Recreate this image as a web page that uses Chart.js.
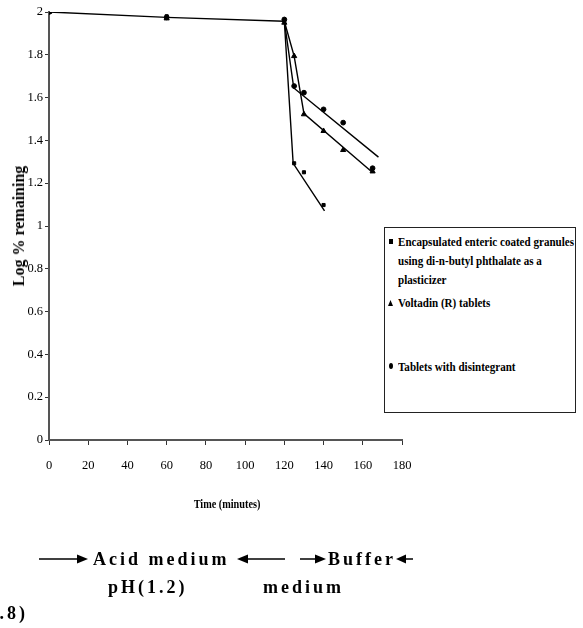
<!DOCTYPE html>
<html>
<head>
<meta charset="utf-8">
<script src="https://cdn.jsdelivr.net/npm/chart.js@4.4.1/dist/chart.umd.min.js"></script>
<style>
  html, body { margin:0; padding:0; background:#fff; }
  #wrap { position:relative; width:583px; height:628px; overflow:hidden; font-family:"Liberation Serif", serif; color:#000; }
  #c { position:absolute; left:0; top:0; }
  .abs { position:absolute; white-space:nowrap; }
  .ytitle { left:19px; top:226px; font-weight:bold; font-size:16px; transform:translate(-50%,-50%) rotate(-90deg); }
  .xtitle { left:227px; top:504px; font-weight:bold; font-size:12.5px; transform:translate(-50%,-50%) scaleX(0.82); }
  #legend { position:absolute; left:384px; top:227px; width:190px; height:184px; border:1px solid #222; background:#fff; }
  .lt { position:absolute; left:13px; font-weight:bold; font-size:13.5px; line-height:19px; transform-origin:0 50%; white-space:nowrap; }
  .mk { position:absolute; background:#000; }
  .big { font-weight:bold; font-size:18px; line-height:18px; letter-spacing:3px; }
</style>
</head>
<body>
<div id="wrap">
  <canvas id="c" width="583" height="628" style="width:583px;height:628px"></canvas>
  <div class="abs ytitle">Log % remaining</div>
  <div class="abs xtitle">Time (minutes)</div>
  <div id="legend"></div>
  <svg class="abs" style="left:0;top:0" width="583" height="628">
    <g stroke="#000" stroke-width="1.5" fill="#000">
      <line x1="39" y1="559" x2="78" y2="559"/><polygon points="77,554.5 88,559 77,563.5" stroke="none"/>
      <line x1="247" y1="559" x2="285" y2="559"/><polygon points="248,554.5 237,559 248,563.5" stroke="none"/>
      <line x1="300" y1="559" x2="316" y2="559"/><polygon points="315,554.5 326,559 315,563.5" stroke="none"/>
      <line x1="405" y1="559" x2="413" y2="559"/><polygon points="406,554.5 396,559 406,563.5" stroke="none"/>
    </g>
  </svg>
  <div class="abs big" style="left:93px;top:550px">Acid medium</div>
  <div class="abs big" style="left:328px;top:550px">Buffer</div>
  <div class="abs big" style="left:108px;top:578px">pH(1.2)</div>
  <div class="abs big" style="left:263px;top:578px">medium</div>
  <div class="abs big" style="right:555px;top:604px">pH(6.8)</div>
</div>
<script>
// ---- data ----
const xTicks = [0, 20, 40, 60, 80, 100, 120, 140, 160, 180];
const yTicks = [0, 0.2, 0.4, 0.6, 0.8, 1, 1.2, 1.4, 1.6, 1.8, 2];

const seriesNames = [
  "Encapsulated enteric coated granules using di-n-butyl phthalate as a plasticizer",
  "Voltadin (R) tablets",
  "Tablets with disintegrant"
];

// measured points
const granulesTime = [0, 60, 120, 125, 130, 140];
const granulesLog  = [2.0, 1.98, 1.96, 1.293, 1.251, 1.098];

const voltadinTime = [0, 60, 120, 125, 130, 140, 150, 165];
const voltadinLog  = [2.0, 1.97, 1.95, 1.794, 1.522, 1.444, 1.355, 1.255];

const disintTime = [0, 60, 120, 125, 130, 140, 150, 165];
const disintLog  = [2.0, 1.975, 1.965, 1.654, 1.623, 1.545, 1.483, 1.27];

// drawn fitted lines
const acidLineTime = [0, 60, 120];
const acidLineLog  = [2.0, 1.975, 1.957];

const granulesLineTime = [120, 124.5, 140.5];
const granulesLineLog  = [1.957, 1.293, 1.071];

const voltadinLineTime = [120, 125, 130, 165];
const voltadinLineLog  = [1.957, 1.794, 1.525, 1.25];

const disintLineTime = [120, 124.8, 168];
const disintLineLog  = [1.957, 1.645, 1.322];

// ---- build ----
const pts = (xs, ys) => xs.map((x, i) => ({ x: x, y: ys[i] }));

function lineDS(xs, ys) {
  return { data: pts(xs, ys), showLine: true, pointRadius: 0, borderColor: '#000',
           borderWidth: 1.4, fill: false, tension: 0, order: 2 };
}
function pointDS(xs, ys, style, r) {
  return { data: pts(xs, ys), showLine: false, pointStyle: style, pointRadius: r,
           backgroundColor: '#000', borderColor: '#000', borderWidth: 1, order: 1 };
}

const tickFont = { family: 'Liberation Serif', size: 12.5 };

new Chart(document.getElementById('c'), {
  type: 'scatter',
  data: {
    datasets: [
      lineDS(acidLineTime, acidLineLog),
      lineDS(granulesLineTime, granulesLineLog),
      lineDS(voltadinLineTime, voltadinLineLog),
      lineDS(disintLineTime, disintLineLog),
      pointDS(granulesTime, granulesLog, 'rect', 2.2),
      pointDS(voltadinTime, voltadinLog, 'triangle', 3),
      pointDS(disintTime, disintLog, 'circle', 2.4)
    ]
  },
  options: {
    responsive: false,
    animation: false,
    devicePixelRatio: 1,
    layout: { padding: { left: 0, right: 181, top: 12, bottom: 0 } },
    plugins: { legend: { display: false }, tooltip: { enabled: false } },
    scales: {
      x: {
        type: 'linear', min: xTicks[0], max: xTicks[xTicks.length - 1],
        afterBuildTicks: s => { s.ticks = xTicks.map(v => ({ value: v })); },
        afterFit: s => { s.height = 188; },
        ticks: { font: tickFont, color: '#000', padding: 13, maxRotation: 0, autoSkip: false },
        grid: { drawOnChartArea: false, drawTicks: true, tickLength: 5, color: '#333', lineWidth: 1 },
        border: { display: true, color: '#555', width: 2 }
      },
      y: {
        type: 'linear', min: yTicks[0], max: yTicks[yTicks.length - 1],
        afterBuildTicks: s => { s.ticks = yTicks.map(v => ({ value: v })); },
        afterFit: s => { s.width = 49; },
        ticks: { font: tickFont, color: '#000', padding: 2, autoSkip: false,
                 callback: v => String(v) },
        grid: { drawOnChartArea: false, drawTicks: true, tickLength: 4, color: '#333', lineWidth: 1 },
        border: { display: true, color: '#555', width: 2 }
      }
    }
  }
});

// ---- legend (HTML text) ----
const legend = document.getElementById('legend');
const legLines = [
  { text: "Encapsulated enteric coated granules", top: 4 },
  { text: "using di-n-butyl phthalate as a", top: 23 },
  { text: "plasticizer", top: 42 },
  { text: seriesNames[1], top: 65 },
  { text: seriesNames[2], top: 129 }
];
const els = legLines.map(l => {
  const d = document.createElement('div');
  d.className = 'lt';
  d.style.top = l.top + 'px';
  d.textContent = l.text;
  legend.appendChild(d);
  return d;
});
const natural = els[0].getBoundingClientRect().width;
const sx = 176 / natural;
els.forEach(e => e.style.transform = 'scaleX(' + sx + ')');

function marker(left, top, w, h, shape) {
  const m = document.createElement('div');
  m.className = 'mk';
  m.style.left = left + 'px'; m.style.top = top + 'px';
  m.style.width = w + 'px'; m.style.height = h + 'px';
  if (shape === 'circle') m.style.borderRadius = '50%';
  if (shape === 'tri') m.style.clipPath = 'polygon(50% 0, 100% 100%, 0 100%)';
  legend.appendChild(m);
}
marker(4, 11, 4, 5, 'rect');
marker(3, 72, 5, 6, 'tri');
marker(4, 135, 4, 6, 'circle');
</script>
</body>
</html>
